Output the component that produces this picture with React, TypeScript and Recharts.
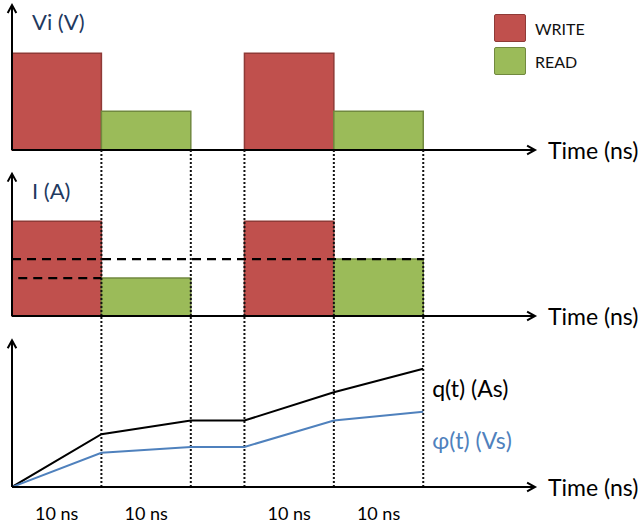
import {
  ComposedChart,
  XAxis,
  YAxis,
  ReferenceArea,
  ReferenceLine,
  Line,
  Legend,
  LabelList,
} from 'recharts';

const FONT = 'Lato, "Open Sans", sans-serif';

// time axis (ns), arrow ends at T_MAX
const T_MAX = 58.5;
const boundaries = [10, 20, 26, 36, 46];

// pulse train
const pulseKind = ['WRITE', 'READ', 'WRITE', 'READ'];
const pulseStart = [0, 10, 26, 36];
const pulseEnd = [10, 20, 36, 46];
const voltage = [1.0, 0.4, 1.0, 0.4];
const current = [1.0, 0.4, 1.0, 0.6];

// dashed current levels
const dashLevel = [0.6, 0.4];
const dashFrom = [0, 0.7];
const dashTo = [46, 10];

// integrated quantities
const timePoints = [0, 10, 20, 26, 36, 46];
const charge = [0, 0.54, 0.68, 0.68, 0.97, 1.21];
const flux = [0, 0.35, 0.41, 0.41, 0.68, 0.77];

// interval labels under the time axis
const intervalTicks = [5, 15, 31, 41];
const intervalLabel = '10 ns';

const legendKinds = ['WRITE', 'READ'];

const FILL: Record<string, string> = { WRITE: '#C0504D', READ: '#9BBB59' };
const EDGE: Record<string, string> = { WRITE: '#8F3A37', READ: '#71893F' };

const lineData = timePoints.map((t, i) => ({ t, q: charge[i], phi: flux[i] }));

type ArrowOpts = { label?: string; dx?: number; dy?: number; color?: string; size?: number };

const arrow =
  ({ label, dx = 13, dy = 0, color = '#000', size = 23 }: ArrowOpts = {}) =>
  (props: any) => {
    const { x1, y1, x2, y2 } = props;
    const ang = Math.atan2(y2 - y1, x2 - x1);
    const len = 9;
    const spread = 0.5;
    const a = `${x2 - len * Math.cos(ang - spread)},${y2 - len * Math.sin(ang - spread)}`;
    const b = `${x2 - len * Math.cos(ang + spread)},${y2 - len * Math.sin(ang + spread)}`;
    return (
      <g>
        <line x1={x1} y1={y1} x2={x2} y2={y2} stroke="#000" strokeWidth={2} />
        <polyline points={`${a} ${x2},${y2} ${b}`} fill="none" stroke="#000" strokeWidth={2} />
        {label && (
          <text
            x={x2 + dx}
            y={y2 + dy}
            dominantBaseline="central"
            fill={color}
            fontSize={size}
            fontFamily={FONT}
          >
            {label}
          </text>
        )}
      </g>
    );
  };

const margin = (top: number, bottom: number) => ({ top, right: 109, left: 12, bottom });

function LegendBox() {
  return (
    <div style={{ fontFamily: FONT }}>
      {legendKinds.map((k) => (
        <div key={k} style={{ display: 'flex', alignItems: 'center', height: 28, marginBottom: 5 }}>
          <div
            style={{
              width: 30,
              height: 26,
              background: FILL[k],
              border: `1.5px solid ${EDGE[k]}`,
              borderRadius: 2,
            }}
          />
          <span style={{ marginLeft: 9, fontSize: 16, color: '#111' }}>{k}</span>
        </div>
      ))}
    </div>
  );
}

const dotted = boundaries.map((b) => (
  <ReferenceLine key={`d${b}`} x={b} stroke="#111" strokeWidth={2} strokeDasharray="2 2" />
));

export default function App() {
  return (
    <div style={{ position: 'absolute', top: 0, left: 0, width: 644, height: 525, background: '#fff' }}>
      {/* Vi (V) */}
      <div style={{ position: 'absolute', top: 0, left: 0 }}>
        <ComposedChart width={644} height={172} margin={margin(5, 22)}>
          <XAxis type="number" dataKey="t" domain={[0, T_MAX]} hide allowDataOverflow />
          <YAxis type="number" domain={[0, 1.5]} hide allowDataOverflow />
          {pulseKind.map((k, i) => (
            <ReferenceArea
              key={`v${i}`}
              x1={pulseStart[i]}
              x2={pulseEnd[i]}
              y1={0}
              y2={voltage[i]}
              fill={FILL[k]}
              fillOpacity={1}
              stroke={EDGE[k]}
              strokeWidth={1.5}
            />
          ))}
          <ReferenceLine
            segment={[{ x: 0, y: 0 }, { x: T_MAX, y: 0 }]}
            shape={arrow({ label: 'Time (ns)' })}
          />
          <ReferenceLine
            segment={[{ x: 0, y: 0 }, { x: 0, y: 1.5 }]}
            shape={arrow({ label: 'Vi (V)', dx: 20, dy: 16, color: '#1F3A5F', size: 22 })}
          />
          <Legend
            layout="vertical"
            align="center"
            verticalAlign="middle"
            content={() => <LegendBox />}
            wrapperStyle={{ top: 14, left: 494, width: 130 }}
          />
        </ComposedChart>
      </div>

      {/* I (A) */}
      <div style={{ position: 'absolute', top: 150, left: 0 }}>
        <ComposedChart width={644} height={188} margin={margin(0, 22)}>
          <XAxis type="number" dataKey="t" domain={[0, T_MAX]} hide allowDataOverflow />
          <YAxis type="number" domain={[0, 1.75]} hide allowDataOverflow />
          {pulseKind.map((k, i) => (
            <ReferenceArea
              key={`i${i}`}
              x1={pulseStart[i]}
              x2={pulseEnd[i]}
              y1={0}
              y2={current[i]}
              fill={FILL[k]}
              fillOpacity={1}
              stroke={EDGE[k]}
              strokeWidth={1.5}
            />
          ))}
          {dotted}
          {dashLevel.map((lv, i) => (
            <ReferenceLine
              key={`l${i}`}
              segment={[{ x: dashFrom[i], y: lv }, { x: dashTo[i], y: lv }]}
              stroke="#000"
              strokeWidth={2.2}
              strokeDasharray="9 6"
            />
          ))}
          <ReferenceLine
            segment={[{ x: 0, y: 0 }, { x: T_MAX, y: 0 }]}
            shape={arrow({ label: 'Time (ns)' })}
          />
          <ReferenceLine
            segment={[{ x: 0, y: 0 }, { x: 0, y: 1.5 }]}
            shape={arrow({ label: 'I (A)', dx: 20, dy: 17, color: '#1F3A5F', size: 22 })}
          />
        </ComposedChart>
      </div>

      {/* q(t), phi(t) */}
      <div style={{ position: 'absolute', top: 316, left: 0 }}>
        <ComposedChart width={644} height={209} data={lineData} margin={margin(0, 8)}>
          <XAxis
            type="number"
            dataKey="t"
            domain={[0, T_MAX]}
            allowDataOverflow
            ticks={intervalTicks}
            interval={0}
            tickFormatter={() => intervalLabel}
            axisLine={false}
            tickLine={false}
            tickMargin={14}
            height={30}
            tick={{ fill: '#000', fontSize: 18, fontFamily: FONT }}
          />
          <YAxis type="number" domain={[0, 1.75]} hide allowDataOverflow />
          {dotted}
          <Line
            type="linear"
            dataKey="q"
            stroke="#000"
            strokeWidth={2}
            dot={false}
            isAnimationActive={false}
          >
            <LabelList
              dataKey="q"
              content={(p: any) =>
                p.index === lineData.length - 1 ? (
                  <text x={p.x + 9} y={p.y + 19} dominantBaseline="central" fontSize={23} fontFamily={FONT} fill="#000">
                    q(t) (As)
                  </text>
                ) : null
              }
            />
          </Line>
          <Line
            type="linear"
            dataKey="phi"
            stroke="#4F81BD"
            strokeWidth={2}
            dot={false}
            isAnimationActive={false}
          >
            <LabelList
              dataKey="phi"
              content={(p: any) =>
                p.index === lineData.length - 1 ? (
                  <text x={p.x + 9} y={p.y + 28} dominantBaseline="central" fontSize={23} fontFamily={FONT} fill="#4F81BD">
                    φ(t) (Vs)
                  </text>
                ) : null
              }
            />
          </Line>
          <ReferenceLine
            segment={[{ x: 0, y: 0 }, { x: T_MAX, y: 0 }]}
            shape={arrow({ label: 'Time (ns)' })}
          />
          <ReferenceLine segment={[{ x: 0, y: 0 }, { x: 0, y: 1.5 }]} shape={arrow()} />
        </ComposedChart>
      </div>
    </div>
  );
}
